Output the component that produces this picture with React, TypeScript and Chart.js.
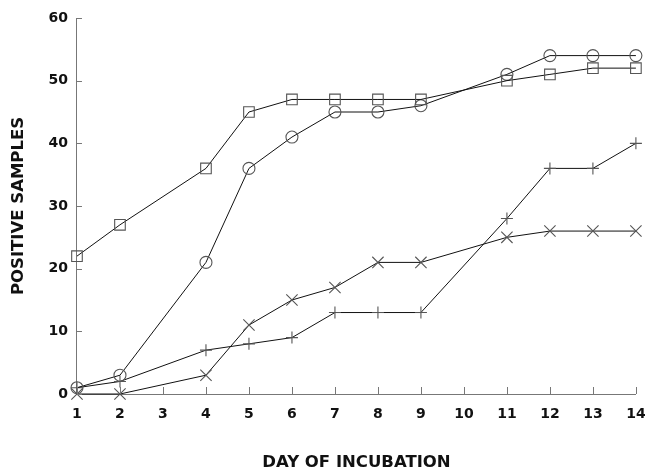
import React, { useEffect, useRef } from "react";
import { Chart, registerables } from "chart.js";

Chart.register(...registerables);

const days = [1, 2, 4, 5, 6, 7, 8, 9, 11, 12, 13, 14];
const squareSeries = [22, 27, 36, 45, 47, 47, 47, 47, 50, 51, 52, 52];
const circleSeries = [1, 3, 21, 36, 41, 45, 45, 46, 51, 54, 54, 54];
const plusSeries = [1, 2, 7, 8, 9, 13, 13, 13, 28, 36, 36, 40];
const crossSeries = [0, 0, 3, 11, 15, 17, 21, 21, 25, 26, 26, 26];
const xTicks = [1, 2, 3, 4, 5, 6, 7, 8, 9, 10, 11, 12, 13, 14];
const yTicks = [0, 10, 20, 30, 40, 50, 60];

const toPoints = (vals: number[]) => vals.map((v, i) => ({ x: days[i], y: v }));

const inwardTicks = {
  id: "inwardTicks",
  afterDatasetsDraw(chart: any) {
    const { ctx, scales, chartArea } = chart;
    ctx.save();
    ctx.strokeStyle = "#777";
    ctx.lineWidth = 1;
    ctx.beginPath();
    xTicks.forEach((t) => {
      const px = Math.round(scales.x.getPixelForValue(t)) + 0.5;
      ctx.moveTo(px, chartArea.bottom);
      ctx.lineTo(px, chartArea.bottom - 7);
    });
    yTicks.forEach((t) => {
      const py = Math.round(scales.y.getPixelForValue(t)) + 0.5;
      ctx.moveTo(chartArea.left, py);
      ctx.lineTo(chartArea.left + 5, py);
    });
    ctx.stroke();
    ctx.restore();
  },
};

export default function App() {
  const ref = useRef<HTMLCanvasElement | null>(null);
  useEffect(() => {
    if (!ref.current) return;
    const font = "'DejaVu Sans', Arial, sans-serif";
    const common = {
      borderColor: "#111",
      borderWidth: 1,
      pointBorderColor: "#555",
      pointBackgroundColor: "rgba(0,0,0,0)",
      pointBorderWidth: 1.1,
      tension: 0,
      clip: false as any,
    };
    const chart = new Chart(ref.current, {
      type: "line",
      data: {
        datasets: [
          { ...common, label: "square", data: toPoints(squareSeries), pointStyle: "rect", pointRadius: 7.5 },
          { ...common, label: "circle", data: toPoints(circleSeries), pointStyle: "circle", pointRadius: 6 },
          { ...common, label: "plus", data: toPoints(plusSeries), pointStyle: "cross", pointRadius: 6 },
          { ...common, label: "cross", data: toPoints(crossSeries), pointStyle: "crossRot", pointRadius: 8 },
        ],
      },
      options: {
        animation: false,
        responsive: false,
        layout: { padding: { left: 0, right: 0, top: 0, bottom: 0 } },
        plugins: { legend: { display: false }, tooltip: { enabled: false } },
        scales: {
          x: {
            type: "linear",
            min: 1,
            max: 14,
            afterBuildTicks: (axis: any) => {
              axis.ticks = xTicks.map((v) => ({ value: v }));
            },
            afterFit: (axis: any) => {
              axis.paddingRight = 9;
            },
            grid: { display: false, drawTicks: false },
            border: { display: true, color: "#777", width: 1 },
            ticks: {
              padding: 12,
              color: "#111",
              font: { family: font, size: 14, weight: "bold" },
            },
            title: {
              display: true,
              text: "DAY OF INCUBATION",
              color: "#111",
              font: { family: font, size: 16.5, weight: "bold", lineHeight: 0.6 },
              padding: { top: 23.3, bottom: 0 },
            },
          },
          y: {
            min: 0,
            max: 60,
            afterBuildTicks: (axis: any) => {
              axis.ticks = yTicks.map((v) => ({ value: v }));
            },
            afterFit: (axis: any) => {
              axis.paddingTop = 18;
            },
            grid: { display: false, drawTicks: false },
            border: { display: true, color: "#777", width: 1 },
            ticks: {
              padding: 9,
              color: "#111",
              font: { family: font, size: 14, weight: "bold" },
            },
            title: {
              display: true,
              text: "POSITIVE SAMPLES",
              color: "#111",
              font: { family: font, size: 16.5, weight: "bold", lineHeight: 1 },
              padding: { top: 10.25, bottom: 12.75 },
            },
          },
        },
      },
      plugins: [inwardTicks],
    });
    return () => chart.destroy();
  }, []);
  return (
    <div style={{ position: "absolute", left: 0, top: 0, width: 645, height: 468, background: "#fff" }}>
      <canvas ref={ref} width={645} height={468} style={{ width: 645, height: 468 }} />
    </div>
  );
}
